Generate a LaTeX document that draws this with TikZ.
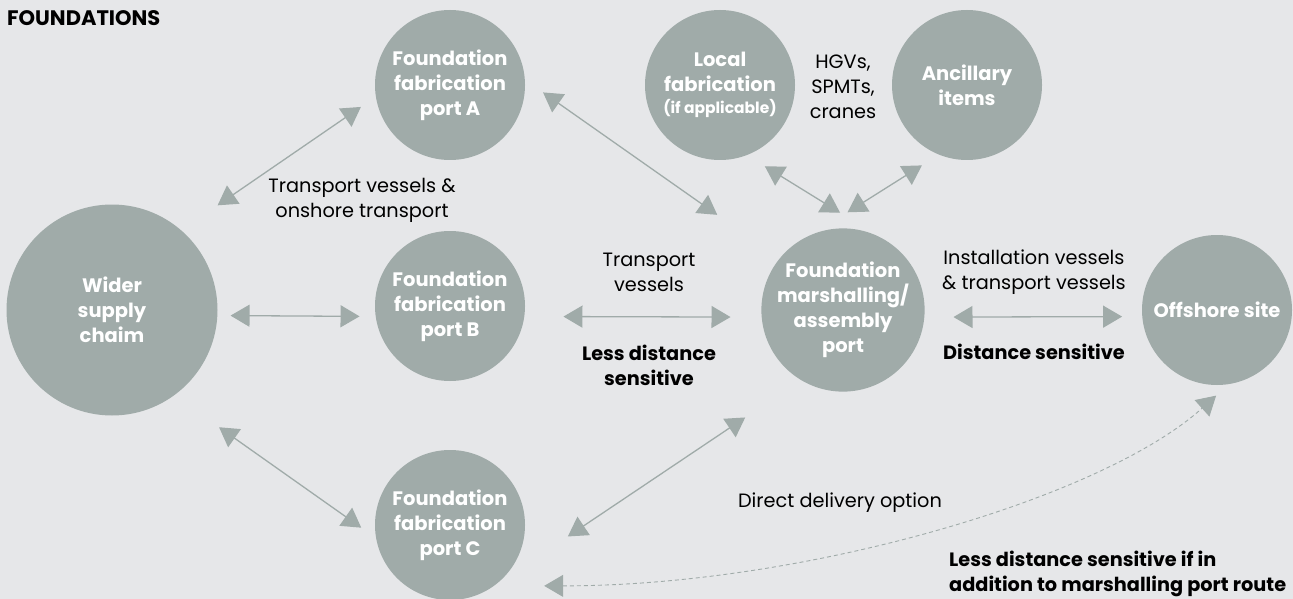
\documentclass[tikz,border=0pt]{standalone}
\usepackage{fontspec}
\setmainfont{Poppins}
\usetikzlibrary{arrows.meta}
\definecolor{bggrey}{HTML}{E6E7E9}
\definecolor{hubgrey}{HTML}{A0ABA9}
\tikzset{
  hub/.style={circle, fill=hubgrey, text=white, minimum size=150pt, inner sep=0pt, align=center, font=\fontsize{19.5}{25}\selectfont\bfseries},
  link/.style={draw=hubgrey, line width=1.3pt, {Triangle[length=19pt,width=22pt]}-{Triangle[length=19pt,width=22pt]}},
  lbl/.style={align=center, inner sep=0pt, font=\fontsize{19.3}{25}\selectfont},
  boldlbl/.style={lbl, font=\fontsize{19.3}{25}\selectfont\bfseries},
}
\begin{document}
\begin{tikzpicture}[x=1pt,y=-1pt]
\clip (0,0) rectangle (1293,599);
\fill[bggrey] (0,0) rectangle (1293,599);

%Circles
\node[hub, minimum size=211pt] (wider) at (112,310) {Wider\\supply\\chaim};
\node[hub] (portA) at (450,85) {Foundation\\fabrication\\port A};
\node[hub] (portB) at (450,306) {Foundation\\fabrication\\port B};
\node[hub] (portC) at (450,525) {Foundation\\fabrication\\port C};
\node[hub] (localfab) at (720,85) {Local\\fabrication\\[-3pt]{\fontsize{15.5}{20}\selectfont(if applicable)}};
\node[hub] (ancillary) at (967,85) {Ancillary\\items};
\node[hub] (marshal) at (843,310) {Foundation\\marshalling/\\assembly\\port};
\node[hub] (offshore) at (1217,310) {Offshore site};

%Arrows
\draw[link, shorten <=44pt, shorten >=18pt] (wider.49) -- (portA.189);
\draw[link, shorten <=13pt, shorten >=16pt] (wider.-3) -- (portB.188);
\draw[link, shorten <=55pt, shorten >=18pt] (wider.-54) -- (portC.190);
\draw[link, shorten <=22pt, shorten >=76pt] (portA.4) -- (marshal.141);
\draw[link, shorten <=39pt, shorten >=31pt] (portB.-8) -- (marshal.185);
\draw[link, shorten <=90pt, shorten >=67pt] (portC.-55) -- (marshal.239);
\draw[link, shorten <=21pt, shorten >=44pt] (localfab.-69) -- (marshal.65);
\draw[link, shorten <=20pt, shorten >=40pt] (ancillary.248) -- (marshal.111);
\draw[link, shorten <=29pt, shorten >=20pt] (marshal.-5) -- (offshore.185);
%Dashed route
\draw[link, line width=0.9pt, dash pattern=on 4pt off 3pt, shorten <=50pt, shorten >=17pt] (portC.-54) .. controls (800,586) and (1100,500) .. (offshore.-81);

% Text Node
\node[lbl, anchor=west, font=\fontsize{21}{25}\selectfont\bfseries] (title) at (7,18) {FOUNDATIONS};
% Text Node
\node[lbl] (lblonshore) at (362,200) {Transport vessels \&\\onshore transport};
% Text Node
\node[lbl] (lbltransport) at (649,272) {Transport\\vessels};
% Text Node
\node[boldlbl] (lblless) at (649,365) {Less distance\\sensitive};
% Text Node
\node[lbl] (lblhgv) at (843,87) {HGVs,\\SPMTs,\\cranes};
% Text Node
\node[lbl] (lblinstall) at (1034,272) {Installation vessels\\\& transport vessels};
% Text Node
\node[boldlbl] (lbldist) at (1034,352) {Distance sensitive};
% Text Node
\node[lbl] (lbldirect) at (840,503) {Direct delivery option};
% Text Node
\node[boldlbl, anchor=west, align=left] (lblroute) at (949,574) {Less distance sensitive if in\\addition to marshalling port route};

\end{tikzpicture}
\end{document}
